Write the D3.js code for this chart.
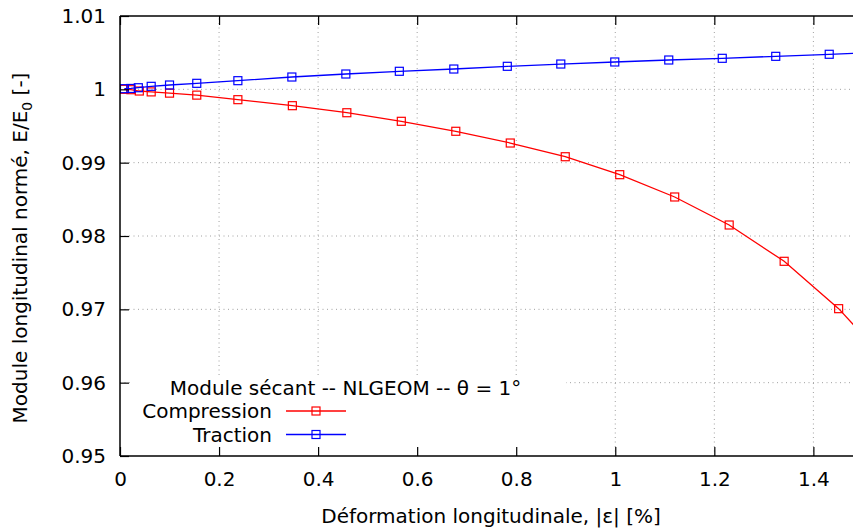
<!DOCTYPE html>
<html>
<head>
<meta charset="utf-8">
<script src="https://cdn.jsdelivr.net/npm/d3@7"></script>
<style>
  body { margin: 0; background: #fff; }
  svg { font-family: "DejaVu Sans", sans-serif; }
</style>
</head>
<body>
<svg width="853" height="528"></svg>
<script>
// values
const xTicks = [0, 0.2, 0.4, 0.6, 0.8, 1, 1.2, 1.4];
const yTicks = [0.95, 0.96, 0.97, 0.98, 0.99, 1, 1.01];

const comprX = [0.008, 0.022, 0.039, 0.063, 0.1, 0.155, 0.238, 0.348, 0.458, 0.568, 0.678, 0.788, 0.899, 1.009, 1.12, 1.23, 1.341, 1.451, 1.562];
const comprY = [1.0, 0.99995, 0.99977, 0.99965, 0.99948, 0.99921, 0.99859, 0.99777, 0.99681, 0.99564, 0.99428, 0.99268, 0.99081, 0.98836, 0.98532, 0.9815, 0.97655, 0.97009, 0.962];

const tracX = [0.009, 0.022, 0.037, 0.063, 0.1, 0.155, 0.238, 0.347, 0.456, 0.564, 0.674, 0.782, 0.89, 0.999, 1.108, 1.216, 1.324, 1.432, 1.54];
const tracY = [1.00009, 1.00012, 1.00022, 1.00041, 1.00059, 1.00082, 1.00118, 1.00168, 1.00209, 1.00246, 1.00277, 1.00314, 1.00345, 1.00373, 1.004, 1.00423, 1.0045, 1.00478, 1.00505];

const series = [
  { name: "Compression", color: "#ff0000", xs: comprX, ys: comprY },
  { name: "Traction", color: "#0000ff", xs: tracX, ys: tracY }
];

const pLeft = 120, pRight = 853, pTop = 16, pBottom = 456;
const fs = "20px";

const svg = d3.select("svg");

const x = d3.scaleLinear().domain([0, 1.48]).range([pLeft, pRight]);
const y = d3.scaleLinear().domain([0.95, 1.01]).range([pBottom, pTop]);

// grid
const grid = svg.append("g")
  .style("stroke", "#a0a0a0")
  .style("stroke-width", 1)
  .style("stroke-dasharray", "1,3.5");

grid.selectAll(".gx")
  .data(xTicks.filter(d => d > 0))
  .enter()
  .append("line")
  .attr("x1", d => x(d))
  .attr("x2", d => x(d))
  .attr("y1", pBottom)
  .attr("y2", pTop);

grid.selectAll(".gy")
  .data(yTicks.filter(d => d > 0.95 && d < 1.01))
  .enter()
  .append("line")
  .attr("x1", pLeft)
  .attr("x2", pRight)
  .attr("y1", d => y(d))
  .attr("y2", d => y(d));

// opaque key box
svg.append("rect")
  .attr("x", 132)
  .attr("y", 377)
  .attr("width", 434)
  .attr("height", pBottom - 377)
  .style("fill", "#fff");

// curves
svg.append("clipPath")
  .attr("id", "plot-clip")
  .append("rect")
  .attr("x", pLeft)
  .attr("y", pTop)
  .attr("width", pRight - pLeft)
  .attr("height", pBottom - pTop);

const line = d3.line()
  .x(d => x(d[0]))
  .y(d => y(d[1]));

series.forEach(s => {
  const pts = s.xs.map((v, i) => [v, s.ys[i]]);
  const g = svg.append("g").attr("clip-path", "url(#plot-clip)");
  g.append("path")
    .datum(pts)
    .attr("d", line)
    .style("fill", "none")
    .style("stroke", s.color)
    .style("stroke-width", 1.3);
  g.selectAll("rect")
    .data(pts)
    .enter()
    .append("rect")
    .attr("x", d => x(d[0]) - 4)
    .attr("y", d => y(d[1]) - 4)
    .attr("width", 8)
    .attr("height", 8)
    .style("fill", "none")
    .style("stroke", s.color)
    .style("stroke-width", 1.2);
});

// axes
const xAxis = svg.append("g")
  .attr("transform", "translate(0," + pBottom + ")")
  .call(d3.axisBottom(x).tickValues(xTicks).tickFormat(d3.format("~g")).tickSize(-9).tickPadding(16));

const xTop = svg.append("g")
  .attr("transform", "translate(0," + pTop + ")")
  .call(d3.axisTop(x).tickValues(xTicks).tickFormat("").tickSize(-9));

const yAxis = svg.append("g")
  .attr("transform", "translate(" + pLeft + ",0)")
  .call(d3.axisLeft(y).tickValues(yTicks).tickFormat(d3.format("~g")).tickSize(-9).tickPadding(14));

[xAxis, xTop, yAxis].forEach(a => {
  a.select(".domain").style("stroke", "#000").style("stroke-width", 1.5);
  a.selectAll(".tick line").style("stroke", "#000").style("stroke-width", 1.2);
  a.selectAll(".tick text")
    .style("font-family", "DejaVu Sans")
    .style("font-size", fs)
    .style("fill", "#000");
});
xAxis.select(".domain").attr("d", "M" + pLeft + ",0H" + pRight);
xTop.select(".domain").attr("d", "M" + pLeft + ",0H" + pRight);
yAxis.select(".domain").attr("d", "M0," + pBottom + "V" + pTop);

// axis titles
svg.append("text")
  .attr("x", 491)
  .attr("y", 523)
  .attr("text-anchor", "middle")
  .style("font-size", fs)
  .text("Déformation longitudinale, |ε| [%]");

const yTitle = svg.append("text")
  .attr("transform", "translate(27,248) rotate(-90)")
  .attr("text-anchor", "middle")
  .style("font-size", fs);
yTitle.append("tspan").text("Module longitudinal normé, E/E");
yTitle.append("tspan").attr("dy", 5).style("font-size", "14px").text("0");
yTitle.append("tspan").attr("dy", -5).text(" [-]");

// key
svg.append("text")
  .attr("x", 345.5)
  .attr("y", 395)
  .attr("text-anchor", "middle")
  .style("font-size", fs)
  .text("Module sécant -- NLGEOM -- θ = 1°");

series.forEach((s, i) => {
  const ky = 411 + i * 23.5;
  svg.append("text")
    .attr("x", 272)
    .attr("y", ky + 7)
    .attr("text-anchor", "end")
    .style("font-size", fs)
    .text(s.name);
  svg.append("line")
    .attr("x1", 286)
    .attr("x2", 346)
    .attr("y1", ky)
    .attr("y2", ky)
    .style("stroke", s.color)
    .style("stroke-width", 1.3);
  svg.append("rect")
    .attr("x", 312)
    .attr("y", ky - 4)
    .attr("width", 8)
    .attr("height", 8)
    .style("fill", "none")
    .style("stroke", s.color)
    .style("stroke-width", 1.2);
});
</script>
</body>
</html>
